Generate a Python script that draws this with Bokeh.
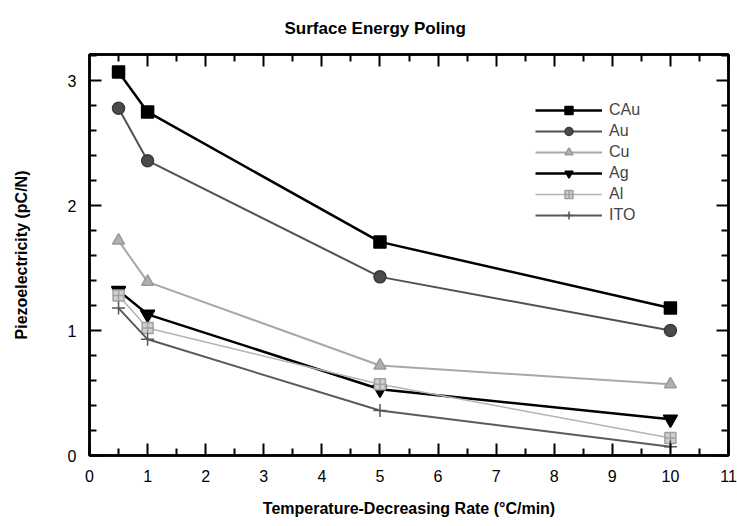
from bokeh.plotting import figure
from bokeh.models import Range1d, FixedTicker, LinearAxis, Legend, LegendItem, Title
from bokeh.embed import file_html
from bokeh.resources import INLINE

# ---- data ----
rates = [0.5, 1, 5, 10]
cau = [3.07, 2.75, 1.71, 1.18]
au = [2.78, 2.36, 1.43, 1.00]
cu = [1.72, 1.39, 0.72, 0.57]
ag = [1.32, 1.13, 0.53, 0.29]
al = [1.28, 1.02, 0.57, 0.14]
ito = [1.18, 0.93, 0.36, 0.07]
series_names = ["CAu", "Au", "Cu", "Ag", "Al", "ITO"]
x_ticks = list(range(0, 12))
y_ticks = [0, 1, 2, 3]

FONT = "Liberation Sans"

p = figure(width=737, height=526, output_backend="svg", toolbar_location=None,
           x_range=Range1d(0, 11), y_range=Range1d(0, 3.21),
           min_border_left=89, min_border_right=9, min_border_top=54, min_border_bottom=71)
p.title = Title(text="Surface Energy Poling", text_font=FONT, text_font_size="17px",
                text_font_style="bold", text_color="black", align="left",
                vertical_align="top", offset=195, standoff=30)
p.grid.visible = False
p.outline_line_color = "black"
p.outline_line_width = 2.5

x_minor = [i * 0.5 for i in range(0, 23) if i % 2 == 1]
y_minor = [round(i * 0.2, 2) for i in range(0, 17) if i % 5 != 0]

def style(ax, ticks, minor, show_labels=True):
    ax.ticker = FixedTicker(ticks=ticks, minor_ticks=minor)
    ax.axis_line_width = 2.5
    ax.axis_line_color = "black"
    ax.major_tick_in = 12
    ax.major_tick_out = 0
    ax.minor_tick_in = 7
    ax.minor_tick_out = 0
    ax.major_tick_line_width = 2
    ax.minor_tick_line_width = 2
    ax.major_tick_line_color = "black"
    ax.minor_tick_line_color = "black"
    ax.major_label_text_font = FONT
    ax.major_label_text_font_size = "16px"
    ax.major_label_text_color = "black"
    if not show_labels:
        ax.major_label_overrides = {t: "" for t in ticks}
        ax.major_label_standoff = 0

style(p.xaxis[0], x_ticks, x_minor)
style(p.yaxis[0], y_ticks, y_minor)
p.xaxis[0].major_label_standoff = 14
p.yaxis[0].major_label_standoff = 13
p.xaxis[0].axis_label = "Temperature-Decreasing Rate (°C/min)"
p.yaxis[0].axis_label = "Piezoelectricity (pC/N)"
for ax in (p.xaxis[0], p.yaxis[0]):
    ax.axis_label_text_font = FONT
    ax.axis_label_text_font_size = "16px"
    ax.axis_label_text_font_style = "bold"
    ax.axis_label_text_color = "black"
p.xaxis[0].axis_label_standoff = 15
p.yaxis[0].axis_label_standoff = 35

top = LinearAxis()
style(top, x_ticks, x_minor, show_labels=False)
top.major_label_standoff = 12
p.add_layout(top, "above")
right = LinearAxis()
style(right, y_ticks, y_minor, show_labels=False)
p.add_layout(right, "right")

specs = [
    (cau, "square", "black", "black", 2.5, 12, "black"),
    (au, "circle", "#4a4a4a", "#3a3a3a", 2, 12, "#505050"),
    (cu, "triangle", "#b0b0b0", "#9a9a9a", 2, 12, "#a8a8a8"),
    (ag, "inverted_triangle", "black", "black", 2.5, 14, "black"),
    (al, "square_cross", "#d0d0d0", "#a0a0a0", 1.5, 11, "#b4b4b4"),
    (ito, "cross", "#555555", "#555555", 2, 13, "#5a5a5a"),
]
items = []
for name, (ys, marker, fill, mline, lw, size, lcol) in zip(series_names, specs):
    r1 = p.line(rates, ys, line_color=lcol, line_width=lw)
    r2 = p.scatter(rates, ys, marker=marker, size=size, fill_color=fill,
                   line_color=mline, line_width=1.5)
    items.append(LegendItem(label=name, renderers=[r1, r2]))

legend = Legend(items=items, location=(446, 230), glyph_width=67, glyph_height=20,
                spacing=1, padding=0, margin=0, label_standoff=7,
                label_text_font=FONT, label_text_font_size="16px",
                border_line_color=None, background_fill_alpha=0)
p.add_layout(legend, "center")

open("out.html", "w").write(file_html(p, INLINE))
